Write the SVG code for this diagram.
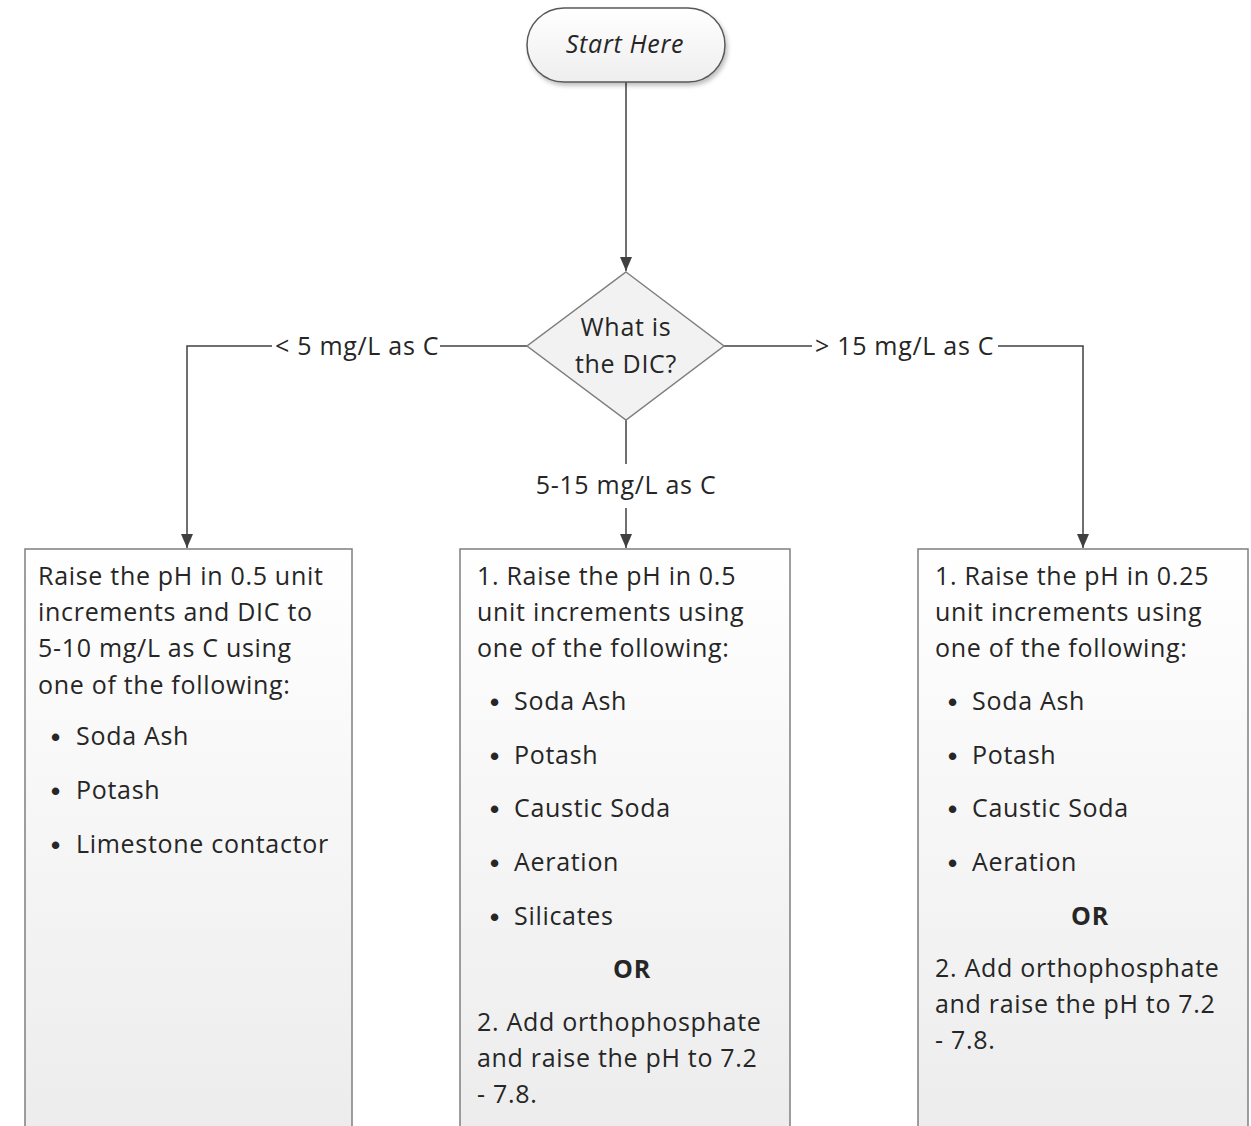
<svg xmlns="http://www.w3.org/2000/svg" width="1251" height="1126" viewBox="0 0 1251 1126">
<defs>
<linearGradient id="boxg" x1="0" y1="0" x2="0" y2="1">
<stop offset="0" stop-color="#ffffff"/>
<stop offset="1" stop-color="#ececec"/>
</linearGradient>
<linearGradient id="pillg" x1="0" y1="0" x2="0" y2="1">
<stop offset="0" stop-color="#ffffff"/>
<stop offset="1" stop-color="#eeeeee"/>
</linearGradient>
<marker id="arr" viewBox="0 0 14 12" refX="14" refY="6" markerWidth="14" markerHeight="12" markerUnits="userSpaceOnUse" orient="auto">
<path d="M0,0 L14,6 L0,12 z" fill="#404040"/>
</marker>
<filter id="sh" x="-10%" y="-10%" width="130%" height="140%">
<feDropShadow dx="2" dy="3" stdDeviation="2" flood-color="#000" flood-opacity="0.25"/>
</filter>
</defs>
<style>
.t{font-family:"Open Sans","Liberation Sans",sans-serif;font-size:25px;letter-spacing:0.7px;fill:#262626}
.c{text-anchor:middle}
.b{font-weight:bold}
.bu{font-family:"Liberation Sans",sans-serif;font-size:26px;font-weight:bold;fill:#262626}
.ln{fill:none;stroke:#404040;stroke-width:1.5}
.box{fill:url(#boxg);stroke:#7f7f7f;stroke-width:1.5}
</style>
<rect width="1251" height="1126" fill="#ffffff"/>
<g id="connectors">
<line class="ln" x1="626" y1="82" x2="626" y2="271" marker-end="url(#arr)"/>
<polyline class="ln" points="272,346 187,346 187,548" marker-end="url(#arr)"/>
<line class="ln" x1="527" y1="346" x2="440" y2="346"/>
<line class="ln" x1="724" y1="346" x2="812" y2="346"/>
<polyline class="ln" points="998,346 1083,346 1083,548" marker-end="url(#arr)"/>
<line class="ln" x1="626" y1="420" x2="626" y2="464"/>
<line class="ln" x1="626" y1="508" x2="626" y2="548" marker-end="url(#arr)"/>
<text class="t" x="275" y="355">&lt; 5 mg/L as C</text>
<text class="t" x="815" y="355">&gt; 15 mg/L as C</text>
<text class="t c" x="626" y="494">5-15 mg/L as C</text>
</g>
<g id="start">
<rect x="527" y="8" width="198" height="74" rx="37" ry="37" fill="url(#pillg)" stroke="#595959" stroke-width="1.5" filter="url(#sh)"/>
<text class="t c" x="625" y="53" font-style="italic" letter-spacing="1.2">Start Here</text>
</g>
<g id="decision">
<polygon points="626,272 724,346 626,420 527,346" fill="#f2f2f2" stroke="#7f7f7f" stroke-width="1.5"/>
<text class="t c" x="626" y="336">What is</text>
<text class="t c" x="626" y="373">the DIC?</text>
</g>
<g id="left-box">
<rect class="box" x="25" y="549" width="327" height="590"/>
<text class="t" x="38" y="585">Raise the pH in 0.5 unit</text>
<text class="t" x="38" y="621">increments and DIC to</text>
<text class="t" x="38" y="657">5-10 mg/L as C using</text>
<text class="t" x="38" y="694">one of the following:</text>
<text class="bu" x="51" y="746">•</text><text class="t" x="76" y="745">Soda Ash</text>
<text class="bu" x="51" y="800">•</text><text class="t" x="76" y="799">Potash</text>
<text class="bu" x="51" y="854">•</text><text class="t" x="76" y="853">Limestone contactor</text>
</g>
<g id="middle-box">
<rect class="box" x="460" y="549" width="330" height="590"/>
<text class="t" x="477" y="585">1. Raise the pH in 0.5</text>
<text class="t" x="477" y="621">unit increments using</text>
<text class="t" x="477" y="657">one of the following:</text>
<text class="bu" x="490" y="711">•</text><text class="t" x="514" y="710">Soda Ash</text>
<text class="bu" x="490" y="765">•</text><text class="t" x="514" y="764">Potash</text>
<text class="bu" x="490" y="818">•</text><text class="t" x="514" y="817">Caustic Soda</text>
<text class="bu" x="490" y="872">•</text><text class="t" x="514" y="871">Aeration</text>
<text class="bu" x="490" y="926">•</text><text class="t" x="514" y="925">Silicates</text>
<text class="t c b" x="632" y="978">OR</text>
<text class="t" x="477" y="1031">2. Add orthophosphate</text>
<text class="t" x="477" y="1067">and raise the pH to 7.2</text>
<text class="t" x="477" y="1103">- 7.8.</text>
</g>
<g id="right-box">
<rect class="box" x="918" y="549" width="330" height="590"/>
<text class="t" x="935" y="585">1. Raise the pH in 0.25</text>
<text class="t" x="935" y="621">unit increments using</text>
<text class="t" x="935" y="657">one of the following:</text>
<text class="bu" x="948" y="711">•</text><text class="t" x="972" y="710">Soda Ash</text>
<text class="bu" x="948" y="765">•</text><text class="t" x="972" y="764">Potash</text>
<text class="bu" x="948" y="818">•</text><text class="t" x="972" y="817">Caustic Soda</text>
<text class="bu" x="948" y="872">•</text><text class="t" x="972" y="871">Aeration</text>
<text class="t c b" x="1090" y="925">OR</text>
<text class="t" x="935" y="977">2. Add orthophosphate</text>
<text class="t" x="935" y="1013">and raise the pH to 7.2</text>
<text class="t" x="935" y="1049">- 7.8.</text>
</g>
</svg>
